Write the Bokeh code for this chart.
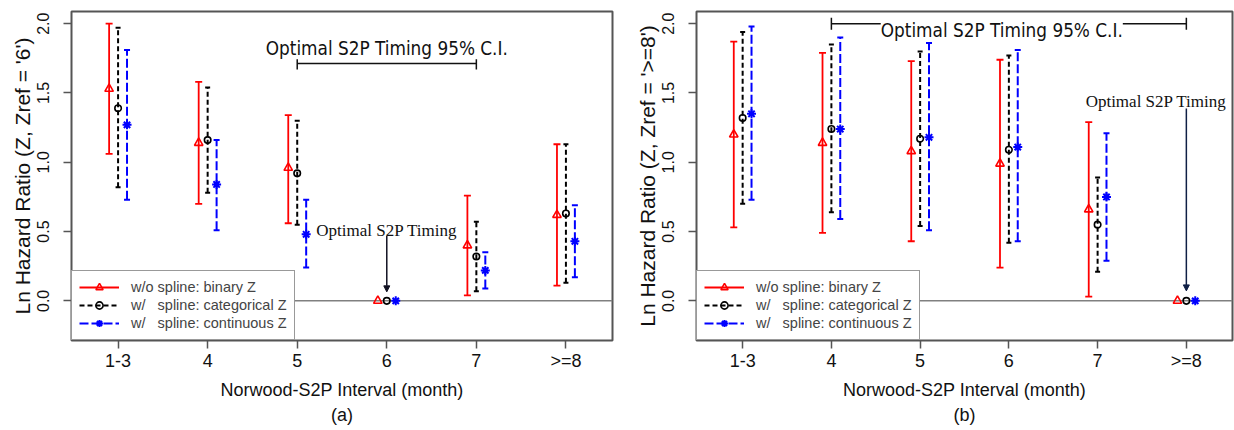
import numpy as np
from bokeh.plotting import figure
from bokeh.models import (ColumnDataSource, Range1d, FixedTicker, Span, Legend, LegendItem,
                          Label, Arrow, NormalHead, TeeHead, Whisker, Title, PrintfTickFormatter)
from bokeh.layouts import row
from bokeh.embed import file_html
from bokeh.resources import INLINE

categories = ["1-3", "4", "5", "6", "7", ">=8"]
y_ticks = [0.0, 0.5, 1.0, 1.5, 2.0]

# Panel (a): reference category '6'
a_bin_est = [1.53, 1.14, 0.96, 0.0, 0.40, 0.62]
a_bin_lo = [1.06, 0.70, 0.56, None, 0.04, 0.11]
a_bin_hi = [2.00, 1.58, 1.34, None, 0.76, 1.13]
a_cat_est = [1.39, 1.16, 0.92, 0.0, 0.32, 0.63]
a_cat_lo = [0.82, 0.78, 0.55, None, 0.07, 0.13]
a_cat_hi = [1.97, 1.54, 1.30, None, 0.57, 1.13]
a_con_est = [1.27, 0.84, 0.48, 0.0, 0.22, 0.43]
a_con_lo = [0.73, 0.51, 0.24, None, 0.09, 0.17]
a_con_hi = [1.81, 1.16, 0.73, None, 0.35, 0.69]
a_ref = "6"
a_ci = ("5", "7")

# Panel (b): reference category '>=8'
b_bin_est = [1.20, 1.14, 1.08, 0.99, 0.66, 0.0]
b_bin_lo = [0.53, 0.49, 0.43, 0.24, 0.03, None]
b_bin_hi = [1.87, 1.79, 1.73, 1.74, 1.29, None]
b_cat_est = [1.32, 1.24, 1.17, 1.09, 0.55, 0.0]
b_cat_lo = [0.70, 0.64, 0.54, 0.42, 0.21, None]
b_cat_hi = [1.94, 1.85, 1.80, 1.77, 0.89, None]
b_con_est = [1.35, 1.24, 1.18, 1.11, 0.75, 0.0]
b_con_lo = [0.73, 0.59, 0.51, 0.43, 0.29, None]
b_con_hi = [1.98, 1.90, 1.86, 1.81, 1.21, None]
b_ref = ">=8"
b_ci = ("4", ">=8")

series_labels = ["w/o spline: binary Z",
                 "w/\u00a0\u00a0 spline: categorical Z",
                 "w/\u00a0\u00a0 spline: continuous Z"]

SANS = "Liberation Sans"
SERIF = "Liberation Serif"
CI_FONT = "DejaVu Sans Condensed"

styles = [
    dict(color="#ff0000", dash="solid", lw=1.8, marker="triangle", size=8.5, cap=7, off=-0.1),
    dict(color="#000000", dash="5 3", lw=2.0, marker="circle", size=6.5, cap=5, off=0.0),
    dict(color="#0000ff", dash="9 3", lw=2.0, marker="asterisk", size=9, cap=6, off=0.1),
]


def make_panel(series, ref, ci, ylab, tag, width, mbl, mbr, mbt, mbb, ci_label_x, ci_label_y,
               opt_text_x, opt_text_y, arrow_y0, arrow_y1, arrow_color, ci_y):
    xs = np.arange(1, len(categories) + 1)
    pos = {c: float(x) for c, x in zip(categories, xs)}
    p = figure(width=width, height=430, x_range=Range1d(0.48, 6.52),
               y_range=Range1d(-0.286, 2.088), output_backend="svg",
               toolbar_location=None, min_border_left=mbl, min_border_right=mbr,
               min_border_top=mbt, min_border_bottom=mbb)
    p.xgrid.visible = False
    p.ygrid.visible = False
    p.outline_line_color = "#555555"
    p.outline_line_width = 2
    p.background_fill_color = "white"

    p.add_layout(Span(location=0, dimension="width", line_color="#808080",
                      line_width=1.5, level="underlay"))

    items = []
    for (est, lo, hi), st, lab in zip(series, styles, series_labels):
        x_all = xs + st["off"]
        idx = [i for i in range(len(categories)) if lo[i] is not None]
        src = ColumnDataSource(dict(x=[x_all[i] for i in idx],
                                    lo=[lo[i] for i in idx],
                                    hi=[hi[i] for i in idx]))
        seg = p.segment(x0="x", y0="lo", x1="x", y1="hi", source=src,
                        line_color=st["color"], line_width=st["lw"], line_dash=st["dash"])
        p.scatter(x="x", y="lo", source=src, marker="dash", size=st["cap"],
                  line_color=st["color"], line_width=st["lw"])
        p.scatter(x="x", y="hi", source=src, marker="dash", size=st["cap"],
                  line_color=st["color"], line_width=st["lw"])
        psrc = ColumnDataSource(dict(x=list(x_all), y=est))
        if st["marker"] == "asterisk":
            sc = p.scatter(x="x", y="y", source=psrc, marker="asterisk", size=st["size"],
                           line_color=st["color"], line_width=2)
        else:
            sc = p.scatter(x="x", y="y", source=psrc, marker=st["marker"], size=st["size"],
                           line_color=st["color"], line_width=1.6, fill_color="white",
                           fill_alpha=0)
        items.append(LegendItem(label=lab, renderers=[seg, sc]))

    leg = Legend(items=items, location="bottom_left", margin=0, padding=7, spacing=0,
                 label_height=18, glyph_height=18, glyph_width=40, label_standoff=12,
                 border_line_color="#333333", border_line_width=1.5,
                 label_text_font=SANS, label_text_font_size="14.5px",
                 background_fill_color="white", background_fill_alpha=1)
    p.add_layout(leg)

    # confidence-interval bracket for the optimal timing
    wh = Whisker(base=ci_y, lower=pos[ci[0]], upper=pos[ci[1]], dimension="width",
                 line_color="#111111", line_width=1.5,
                 lower_head=TeeHead(size=12, line_color="#111111", line_width=1.5),
                 upper_head=TeeHead(size=12, line_color="#111111", line_width=1.5))
    p.add_layout(wh)
    p.add_layout(Label(x=ci_label_x, y=ci_label_y, text="Optimal S2P Timing 95% C.I.",
                       text_font=CI_FONT, text_font_size="18.8px", text_align="center",
                       text_baseline="alphabetic", text_color="#111111",
                       background_fill_color="white", background_fill_alpha=1))
    p.add_layout(Label(x=opt_text_x, y=opt_text_y, text="Optimal S2P Timing",
                       text_font=SERIF, text_font_size="17px", text_align="center",
                       text_baseline="alphabetic", text_color="#111111"))
    p.add_layout(Arrow(x_start=pos[ref], y_start=arrow_y0, x_end=pos[ref], y_end=arrow_y1,
                       line_color=arrow_color, line_width=1.5,
                       end=NormalHead(size=6, fill_color=arrow_color, line_color=arrow_color,
                                      line_width=1)))

    # axes
    p.xaxis.ticker = FixedTicker(ticks=list(xs))
    p.xaxis.major_label_overrides = {int(x): c for x, c in zip(xs, categories)}
    p.yaxis.ticker = FixedTicker(ticks=y_ticks)
    p.yaxis.formatter = PrintfTickFormatter(format="%.1f")
    p.yaxis.major_label_orientation = "vertical"
    for ax in (p.xaxis[0], p.yaxis[0]):
        ax.axis_line_color = None
        ax.minor_tick_line_color = None
        ax.major_tick_line_color = "#555555"
        ax.major_tick_line_width = 1.5
        ax.major_tick_out = 8
        ax.major_tick_in = 0
        ax.major_label_text_font = SANS
        ax.major_label_text_color = "#111111"
        ax.axis_label_text_font = SANS
        ax.axis_label_text_font_style = "normal"
        ax.axis_label_text_color = "#111111"
    p.xaxis.major_label_text_font_size = "18px"
    p.xaxis.major_label_standoff = 2
    p.xaxis.axis_label = "Norwood-S2P Interval (month)"
    p.xaxis.axis_label_text_font_size = "18px"
    p.xaxis.axis_label_standoff = 6
    p.yaxis.major_label_text_font_size = "16px"
    p.yaxis.major_label_standoff = 14
    p.yaxis.axis_label = ylab
    p.yaxis.axis_label_text_font_size = "21px"
    p.yaxis.axis_label_standoff = 1

    p.add_layout(Title(text=tag, align="center", text_font=SANS, text_font_size="18px",
                       text_font_style="normal", text_color="#111111", standoff=0),
                 "below")
    return p


pa = make_panel([(a_bin_est, a_bin_lo, a_bin_hi), (a_cat_est, a_cat_lo, a_cat_hi),
                 (a_con_est, a_con_lo, a_con_hi)],
                a_ref, a_ci, "Ln Hazard Ratio (Z, Zref = '6')", "(a)",
                width=625, mbl=71, mbr=13, mbt=11, mbb=88,
                ci_label_x=4.0, ci_label_y=1.82,
                opt_text_x=4.0, opt_text_y=0.506,
                arrow_y0=0.47, arrow_y1=0.065, arrow_color="#111122", ci_y=1.713)

pb = make_panel([(b_bin_est, b_bin_lo, b_bin_hi), (b_cat_est, b_cat_lo, b_cat_hi),
                 (b_con_est, b_con_lo, b_con_hi)],
                b_ref, b_ci, "Ln Hazard Ratio (Z, Zref = '>=8')", "(b)",
                width=609, mbl=71, mbr=2, mbt=10, mbb=90,
                ci_label_x=3.92, ci_label_y=1.95,
                opt_text_x=5.66, opt_text_y=1.436,
                arrow_y0=1.388, arrow_y1=0.072, arrow_color="#0f1f45", ci_y=2.0)

layout = row(pa, pb)
open("out.html", "w").write(file_html(layout, INLINE))
